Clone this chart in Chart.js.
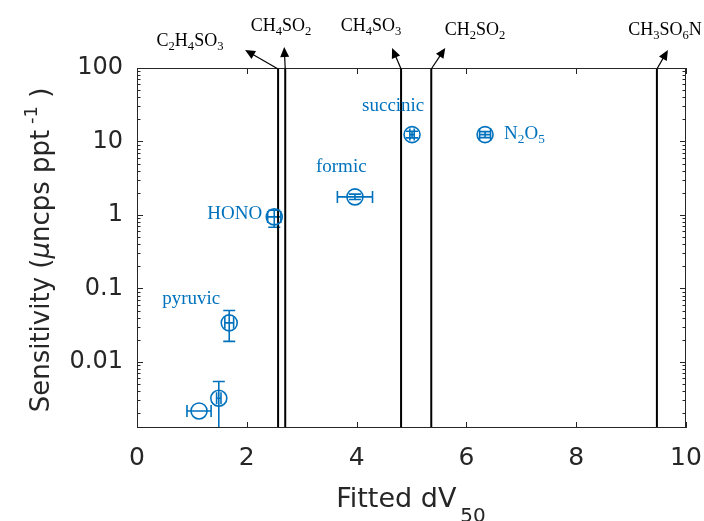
<!DOCTYPE html>
<html>
<head>
<meta charset="utf-8">
<script src="https://cdn.jsdelivr.net/npm/chart.js@4.4.1/dist/chart.umd.min.js"></script>
<style>
  body { margin: 0; background: #fff; }
  #wrap { width: 704px; height: 521px; }
</style>
</head>
<body>
<div id="wrap"><canvas id="dvChart"></canvas></div>
<script>
// 化合物ごとのデータ
const names    = ['N2O5', 'succinic', 'formic', 'HONO', 'pyruvic', '', ''];
const dv50     = [6.34, 5.01, 3.97, 2.50, 1.68, 1.49, 1.13];
const dv50Err  = [0.10, 0.04, 0.32, 0.12, 0.08, 0.04, 0.22];
const sens     = [12.4, 12.4, 1.76, 0.94, 0.034, 0.0032, 0.00215];
const sensLow  = [11.3, 11.2, 1.62, 0.68, 0.019, 0.0008, 0.00215];
const sensHigh = [13.6, 13.8, 1.92, 1.16, 0.050, 0.0054, 0.00215];

// 縦線（スルホン系化合物の dV50）
const lineNames = ['C2H4SO3', 'CH4SO2', 'CH4SO3', 'CH2SO2', 'CH3SO6N'];
const lineDv50  = [2.57, 2.70, 4.81, 5.36, 9.47];

const xTicks = [0, 2, 4, 6, 8, 10];
const yTicks = [0.01, 0.1, 1, 10, 100];
const yMin = 0.00126, yMax = 100;

const blue = '#0072BD';
const ink = '#262626';
const sans = '"DejaVu Sans", sans-serif';
const serif = '"Liberation Serif", "DejaVu Serif", serif';

// ラベル位置（レイアウト）
const pointLabelPos = {
  'N2O5':     { dx: 19,  dy: 4 },
  'succinic': { dx: -50, dy: -24 },
  'formic':   { dx: -39, dy: -25 },
  'HONO':     { dx: -67, dy: 2 },
  'pyruvic':  { dx: -67, dy: -19 }
};
const lineLabelPos = [
  { cx: 190, by: 46, hx: -33, hy: -18 },
  { cx: 281, by: 31, hx: -1,  hy: -21 },
  { cx: 371, by: 31, hx: -9,  hy: -20 },
  { cx: 475, by: 35, hx: 14,  hy: -20 },
  { cx: 665, by: 35, hx: 11,  hy: -18 }
];

// 化学式を下付き文字つきで描く
function chemWidth(ctx, s, size, fam) {
  let w = 0;
  for (const ch of s) {
    const sub = /[0-9]/.test(ch);
    ctx.font = (sub ? size * 0.7 : size) + 'px ' + fam;
    w += ctx.measureText(ch).width;
  }
  return w;
}
function drawChem(ctx, s, x, y, size, fam) {
  for (const ch of s) {
    const sub = /[0-9]/.test(ch);
    ctx.font = (sub ? size * 0.7 : size) + 'px ' + fam;
    ctx.fillText(ch, x, sub ? y + size * 0.22 : y);
    x += ctx.measureText(ch).width;
  }
}

function drawArrow(ctx, x1, y1, x2, y2) {
  const a = Math.atan2(y2 - y1, x2 - x1);
  const L = 10, W = 4.5;
  ctx.beginPath();
  ctx.moveTo(x1, y1);
  ctx.lineTo(x2 - Math.cos(a) * L * 0.8, y2 - Math.sin(a) * L * 0.8);
  ctx.stroke();
  ctx.beginPath();
  ctx.moveTo(x2, y2);
  ctx.lineTo(x2 - Math.cos(a) * L + Math.sin(a) * W, y2 - Math.sin(a) * L - Math.cos(a) * W);
  ctx.lineTo(x2 - Math.cos(a) * L - Math.sin(a) * W, y2 - Math.sin(a) * L + Math.cos(a) * W);
  ctx.closePath();
  ctx.fill();
}

const decorPlugin = {
  id: 'decor',
  beforeDatasetsDraw(chart) {
    const { ctx, chartArea: ca, scales: { x, y } } = chart;
    ctx.save();
    ctx.beginPath();
    ctx.rect(ca.left, ca.top, ca.right - ca.left, ca.bottom - ca.top);
    ctx.clip();
    ctx.strokeStyle = blue;
    ctx.lineWidth = 1.6;
    const cap = 6;
    for (let i = 0; i < dv50.length; i++) {
      const px = x.getPixelForValue(dv50[i]);
      const py = y.getPixelForValue(sens[i]);
      const x1 = x.getPixelForValue(dv50[i] - dv50Err[i]);
      const x2 = x.getPixelForValue(dv50[i] + dv50Err[i]);
      const y1 = y.getPixelForValue(sensLow[i]);
      const y2 = y.getPixelForValue(sensHigh[i]);
      ctx.beginPath();
      ctx.moveTo(x1, py); ctx.lineTo(x2, py);
      ctx.moveTo(x1, py - cap); ctx.lineTo(x1, py + cap);
      ctx.moveTo(x2, py - cap); ctx.lineTo(x2, py + cap);
      if (sensHigh[i] > sensLow[i]) {
        ctx.moveTo(px, y1); ctx.lineTo(px, y2);
        ctx.moveTo(px - cap, y1); ctx.lineTo(px + cap, y1);
        ctx.moveTo(px - cap, y2); ctx.lineTo(px + cap, y2);
      }
      ctx.stroke();
    }
    ctx.restore();
  },
  afterDraw(chart) {
    const { ctx, chartArea: ca, scales: { x, y } } = chart;
    ctx.save();
    // 枠と内向きの目盛り
    ctx.strokeStyle = ink;
    ctx.lineWidth = 1;
    ctx.strokeRect(ca.left + 0.5, ca.top + 0.5, ca.right - ca.left - 1, ca.bottom - ca.top - 1);
    ctx.beginPath();
    for (const v of xTicks) {
      const px = Math.round(x.getPixelForValue(v)) + 0.5;
      ctx.moveTo(px, ca.bottom); ctx.lineTo(px, ca.bottom - 6);
      ctx.moveTo(px, ca.top); ctx.lineTo(px, ca.top + 6);
    }
    for (let e = -3; e <= 2; e++) {
      for (let m = 1; m <= 9; m++) {
        const v = m * Math.pow(10, e);
        if (v < yMin || v > yMax) continue;
        const py = Math.round(y.getPixelForValue(v)) + 0.5;
        const len = m === 1 ? 6 : 3.5;
        ctx.moveTo(ca.left, py); ctx.lineTo(ca.left + len, py);
        ctx.moveTo(ca.right, py); ctx.lineTo(ca.right - len, py);
      }
    }
    ctx.stroke();

    // 点のラベル
    ctx.fillStyle = blue;
    ctx.textBaseline = 'alphabetic';
    ctx.textAlign = 'left';
    for (let i = 0; i < names.length; i++) {
      const p = pointLabelPos[names[i]];
      if (!p) continue;
      const px = x.getPixelForValue(dv50[i]) + p.dx;
      const py = y.getPixelForValue(sens[i]) + p.dy;
      drawChem(ctx, names[i], px, py, 19, serif);
    }

    // 縦線の上のラベルと矢印
    ctx.fillStyle = '#000';
    ctx.strokeStyle = '#000';
    ctx.lineWidth = 1.2;
    for (let i = 0; i < lineNames.length; i++) {
      const lp = lineLabelPos[i];
      const w = chemWidth(ctx, lineNames[i], 18, serif);
      drawChem(ctx, lineNames[i], lp.cx - w / 2, lp.by, 18, serif);
      const lx = x.getPixelForValue(lineDv50[i]);
      drawArrow(ctx, lx, ca.top + 1, lx + lp.hx, ca.top + lp.hy);
    }

    // 軸タイトル
    ctx.fillStyle = ink;
    // x: Fitted dV50
    ctx.font = '27px ' + sans;
    const w1 = ctx.measureText('Fitted dV').width;
    ctx.font = '20px ' + sans;
    const w2 = ctx.measureText('50').width;
    let tx = 411 - (w1 + w2 + 4) / 2;
    ctx.font = '27px ' + sans;
    ctx.fillText('Fitted dV', tx, 507);
    ctx.font = '20px ' + sans;
    ctx.fillText('50', tx + w1 + 4, 522);

    // y: Sensitivity (μncps ppt-1)
    const parts = [
      { t: 'Sensitivity (', f: '26px ' + sans, dy: 0 },
      { t: 'μ', f: 'italic 26px ' + sans, dy: 0 },
      { t: 'ncps ppt', f: '26px ' + sans, dy: 0 },
      { t: ' -1', f: '18px ' + sans, dy: -12 },
      { t: ' )', f: '26px ' + sans, dy: 0 }
    ];
    let tw = 0;
    for (const p of parts) { ctx.font = p.f; tw += ctx.measureText(p.t).width; }
    ctx.translate(49, 250);
    ctx.rotate(-Math.PI / 2);
    let cx = -tw / 2;
    for (const p of parts) {
      ctx.font = p.f;
      ctx.fillText(p.t, cx, p.dy);
      cx += ctx.measureText(p.t).width;
    }
    ctx.restore();
  }
};

const datasets = [{
  label: 'sens',
  type: 'scatter',
  data: dv50.map((v, i) => ({ x: v, y: sens[i] })),
  pointStyle: 'circle',
  pointRadius: 8,
  borderColor: blue,
  borderWidth: 1.6,
  backgroundColor: 'rgba(0,0,0,0)',
  order: 0
}];
lineDv50.forEach((v, i) => {
  datasets.push({
    label: lineNames[i],
    type: 'line',
    data: [{ x: v, y: yMin }, { x: v, y: yMax }],
    borderColor: '#000',
    borderWidth: 2,
    pointRadius: 0,
    order: 1
  });
});

const ctx = document.getElementById('dvChart').getContext('2d');
const dvChart = new Chart(ctx, {
  type: 'scatter',
  data: { datasets: datasets },
  options: {
    responsive: true,
    maintainAspectRatio: false,
    animation: false,
    layout: { padding: { top: 68, right: 18, left: 0, bottom: 0 } },
    plugins: { legend: { display: false }, tooltip: { enabled: false } },
    scales: {
      x: {
        type: 'linear', min: 0, max: 10,
        afterBuildTicks: s => { s.ticks = xTicks.map(v => ({ value: v })); },
        afterFit: s => { s.height = 93; s.paddingLeft = 0; s.paddingRight = 0; },
        ticks: { color: ink, font: { size: 25, family: sans }, padding: 7, maxRotation: 0 },
        grid: { display: false },
        border: { display: false }
      },
      y: {
        type: 'logarithmic', min: yMin, max: yMax,
        afterBuildTicks: s => { s.ticks = yTicks.map(v => ({ value: v })); },
        afterFit: s => { s.width = 137; s.paddingTop = 0; s.paddingBottom = 0; },
        ticks: { color: ink, font: { size: 24, family: sans }, padding: 6,
                 callback: v => String(v) },
        grid: { display: false },
        border: { display: false }
      }
    }
  },
  plugins: [decorPlugin]
});
</script>
</body>
</html>
